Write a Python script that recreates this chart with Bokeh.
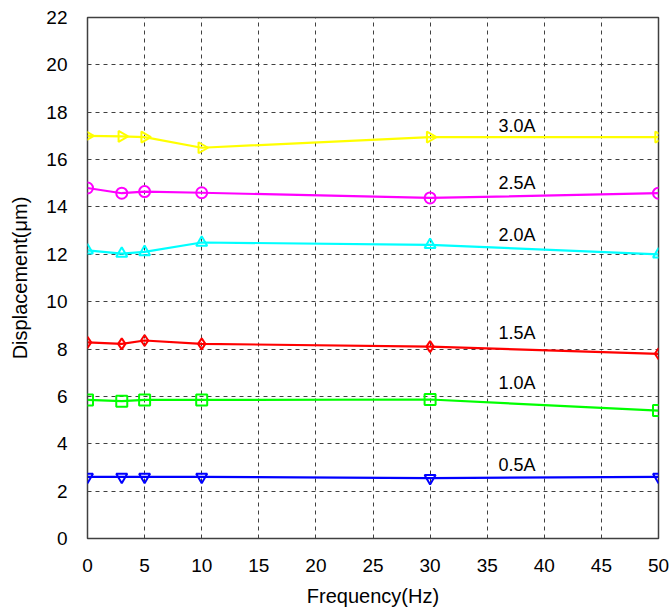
import math
from bokeh.plotting import figure
from bokeh.models import Range1d, FixedTicker
from bokeh.core.properties import value
from bokeh.embed import file_html
from bokeh.resources import INLINE

# ---- data ----
freq = [0, 3, 5, 10, 30, 50]
currents = ["0.5A", "1.0A", "1.5A", "2.0A", "2.5A", "3.0A"]
disp_05 = [2.6, 2.6, 2.6, 2.6, 2.55, 2.6]
disp_10 = [5.85, 5.8, 5.85, 5.85, 5.87, 5.4]
disp_15 = [8.28, 8.22, 8.36, 8.22, 8.1, 7.8]
disp_20 = [12.17, 12.03, 12.1, 12.5, 12.4, 12.0]
disp_25 = [14.8, 14.58, 14.65, 14.6, 14.38, 14.58]
disp_30 = [17.0, 16.98, 16.95, 16.5, 16.95, 16.95]
x_ticks = [0, 5, 10, 15, 20, 25, 30, 35, 40, 45, 50]
y_ticks = [0, 2, 4, 6, 8, 10, 12, 14, 16, 18, 20, 22]

series = [disp_05, disp_10, disp_15, disp_20, disp_25, disp_30]

# ---- style / layout ----
colors = ["#0000FF", "#00FF00", "#FF0000", "#00FFFF", "#FF00FF", "#FFFF00"]
markers = ["inverted_triangle", "square", "diamond", "triangle", "circle", "triangle"]
angles = [0, 0, 0, 0, 0, -math.pi / 2]
label_x = 37.6
label_y = [3.09, 6.57, 8.69, 12.8, 15.03, 17.4]
FONT = "Liberation Sans"

p = figure(width=672, height=610, output_backend="svg", toolbar_location=None,
           x_range=Range1d(0, 50), y_range=Range1d(0, 22),
           min_border_left=87, min_border_right=14, min_border_top=17, min_border_bottom=72)

p.outline_line_color = "#404040"
p.outline_line_width = 1.5
p.background_fill_color = "white"

for ax in (p.xaxis[0], p.yaxis[0]):
    ax.axis_line_color = None
    ax.major_tick_line_color = None
    ax.minor_tick_line_color = None
    ax.major_label_text_font = FONT
    ax.major_label_text_font_size = "19px"
    ax.major_label_text_color = "black"
    ax.axis_label_text_font = FONT
    ax.axis_label_text_font_size = "20px"
    ax.axis_label_text_font_style = "normal"
    ax.axis_label_text_color = "black"

p.xaxis.ticker = FixedTicker(ticks=x_ticks)
p.yaxis.ticker = FixedTicker(ticks=y_ticks)
p.xaxis.axis_label = "Frequency(Hz)"
p.yaxis.axis_label = "Displacement(μm)"
p.xaxis.major_label_standoff = 14
p.yaxis.major_label_standoff = 14
p.xaxis.axis_label_standoff = 10
p.yaxis.axis_label_standoff = 12

for g in (p.xgrid[0], p.ygrid[0]):
    g.grid_line_color = "#404040"
    g.grid_line_dash = "4 4"
    g.grid_line_width = 1

for vals, c, m, a, name, ly in zip(series, colors, markers, angles, currents, label_y):
    p.line(freq, vals, line_color=c, line_width=2.2)
    p.scatter(freq, vals, marker=m, size=11, angle=a, line_color=c,
              fill_color=None, line_width=2)
    p.text(x=[label_x], y=[ly], text=[name],
           text_font=value(FONT), text_font_size="18px", text_color="black",
           text_align="center", text_baseline="middle")

open("out.html", "w").write(file_html(p, INLINE))
